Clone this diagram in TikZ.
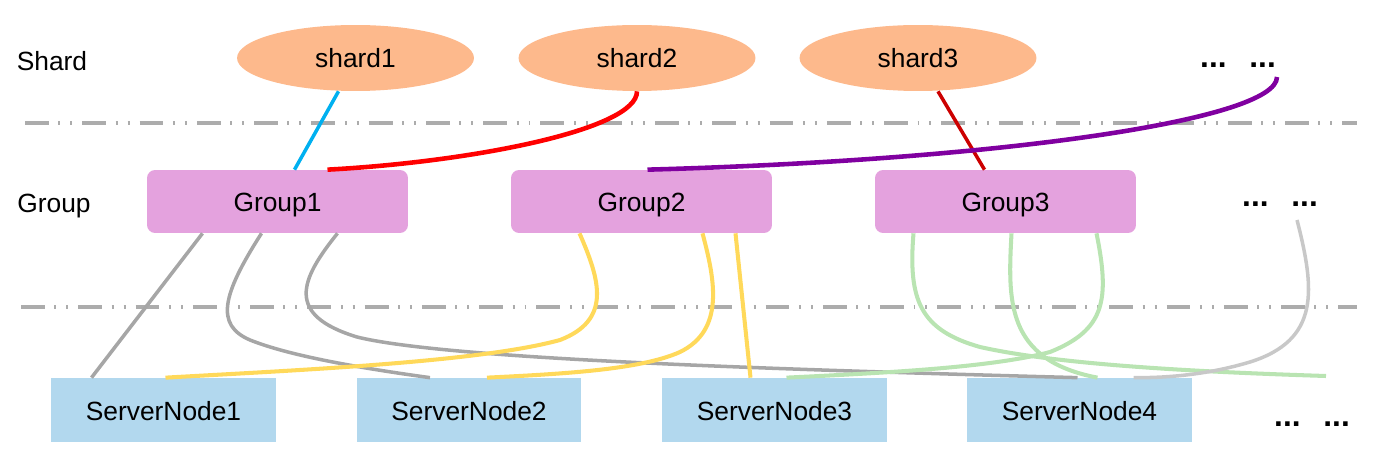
\documentclass[tikz,border=0pt]{standalone}
\usepackage{fontspec}
\setmainfont{Liberation Sans}
\usetikzlibrary{shapes.geometric,calc}

\definecolor{shardfill}{RGB}{253,185,140}
\definecolor{groupfill}{RGB}{228,162,222}
\definecolor{serverfill}{RGB}{178,216,238}
\definecolor{sepgray}{RGB}{172,172,172}
\definecolor{linkblue}{RGB}{0,176,240}
\definecolor{linkred}{RGB}{255,0,0}
\definecolor{linkdarkred}{RGB}{204,0,0}
\definecolor{linkpurple}{RGB}{128,0,160}
\definecolor{linkgray}{RGB}{166,166,166}
\definecolor{linkyellow}{RGB}{255,217,90}
\definecolor{linkgreen}{RGB}{185,228,178}
\definecolor{linklight}{RGB}{200,200,200}

\begin{document}
\begin{tikzpicture}[x=0.02cm,y=-0.02cm,
    font=\fontsize{15}{18}\selectfont,
    shardnode/.style={ellipse,fill=shardfill,minimum width=4.74cm,minimum height=1.32cm,inner sep=0pt,text height=11pt,text depth=0pt},
    groupnode/.style={rectangle,rounded corners=0.16cm,fill=groupfill,minimum width=5.22cm,minimum height=1.26cm,inner sep=0pt,text height=11pt,text depth=0pt},
    servernode/.style={rectangle,fill=serverfill,minimum width=4.5cm,minimum height=1.28cm,inner sep=0pt,text height=12pt,text depth=0pt},
    layerlabel/.style={anchor=base},
    morenode/.style={anchor=base,font=\fontsize{18}{20}\selectfont\bfseries},
    layerline/.style={sepgray,line width=1.8pt,dash pattern=on 13.6pt off 5.4pt on 1.1pt off 5.7pt on 1.1pt off 5.7pt},
    wire/.style={line width=2pt}]

                \useasboundingbox (0,0) rectangle (1383,462);

                % layers
                \draw[layerline] (25,123) -- (1357,123);
                \draw[layerline] (21,307) -- (1357,307);
                \node[layerlabel] (shardlabel) at (52,71) {Shard};
                \node[layerlabel] (grouplabel) at (54,213) {Group};

                % shards
                \node[shardnode] (s1) at (355.5,58) {shard1};
                \node[shardnode] (s2) at (637,58) {shard2};
                \node[shardnode] (s3) at (918,58) {shard3};
                \node[morenode] (d1) at (1238,68) {...\hspace{13pt}...};

                % groups
                \node[groupnode] (g1) at (277.5,201.5) {Group1};
                \node[groupnode] (g2) at (641.5,201.5) {Group2};
                \node[groupnode] (g3) at (1005.5,201.5) {Group3};
                \node[morenode] (d2) at (1280,207) {...\hspace{13pt}...};

                % server nodes
                \node[servernode] (n1) at (163.5,410) {ServerNode1};
                \node[servernode] (n2) at (469,410) {ServerNode2};
                \node[servernode] (n3) at (774.5,410) {ServerNode3};
                \node[servernode] (n4) at (1079.5,410) {ServerNode4};
                \node[morenode] (d3) at (1312,427) {...\hspace{13pt}...};

                \coordinate (e1) at (1277,77);
                \coordinate (e2) at (1297,220);
                \coordinate (e3) at (1326,376);

                % shard -> group
                \draw[wire,linkblue] ($(s1.south)+(-17,0)$) -- ($(g1.north)+(17,0)$);
                \draw[wire,linkred,line width=2.6pt] (s2.south) .. controls (637,130) and (470,162) .. ($(g1.north)+(50,0)$);
                \draw[wire,linkdarkred] ($(s3.south)+(20,0)$) -- ($(g3.north)+(-21,0)$);
                \draw[wire,linkpurple,line width=2.6pt] (e1) .. controls (1277,120) and (1000,160) .. ($(g2.north)+(6,0)$);

                % group -> server node
                \draw[wire,linkgray] ($(g1.south)+(-75,0)$) -- ($(n1.north)+(-72,0)$);
                \draw[wire,linkgray] ($(g1.south)+(-16,0)$) .. controls (222,295) and (215,325) .. (250,340) .. controls (290,356) and (360,368) .. ($(n2.north)+(-39,0)$);
                \draw[wire,linkgray] ($(g1.south)+(60,0)$) .. controls (300,280) and (285,315) .. (357,337) .. controls (450,360) and (800,370) .. ($(n4.north)+(-2,0)$);
                \draw[wire,linkyellow,line width=2.3pt] ($(g2.south)+(-62,0)$) .. controls (600,280) and (612,320) .. (560,340) .. controls (480,362) and (300,370) .. ($(n1.north)+(2,0)$);
                \draw[wire,linkyellow,line width=2.3pt] ($(g2.south)+(61,0)$) .. controls (715,280) and (725,330) .. (680,352) .. controls (640,370) and (560,374) .. ($(n2.north)+(18,0)$);
                \draw[wire,linkyellow,line width=2.3pt] ($(g2.south)+(94,0)$) -- ($(n3.north)+(-24,0)$);
                \draw[wire,linkgreen,line width=2.3pt] ($(g3.south)+(-92,0)$) .. controls (908,300) and (920,330) .. (980,347) .. controls (1060,365) and (1200,372) .. (e3);
                \draw[wire,linkgreen,line width=2.3pt] ($(g3.south)+(6,0)$) .. controls (1008,300) and (1005,360) .. ($(n4.north)+(18,0)$);
                \draw[wire,linkgreen,line width=2.3pt] ($(g3.south)+(91,0)$) .. controls (1110,300) and (1105,330) .. (1050,352) .. controls (990,368) and (880,373) .. ($(n3.north)+(12,0)$);
                \draw[wire,linklight] (e2) .. controls (1315,290) and (1320,340) .. (1250,362) .. controls (1210,374) and (1170,378) .. ($(n4.north)+(54,0)$);
            \end{tikzpicture}
\end{document}
